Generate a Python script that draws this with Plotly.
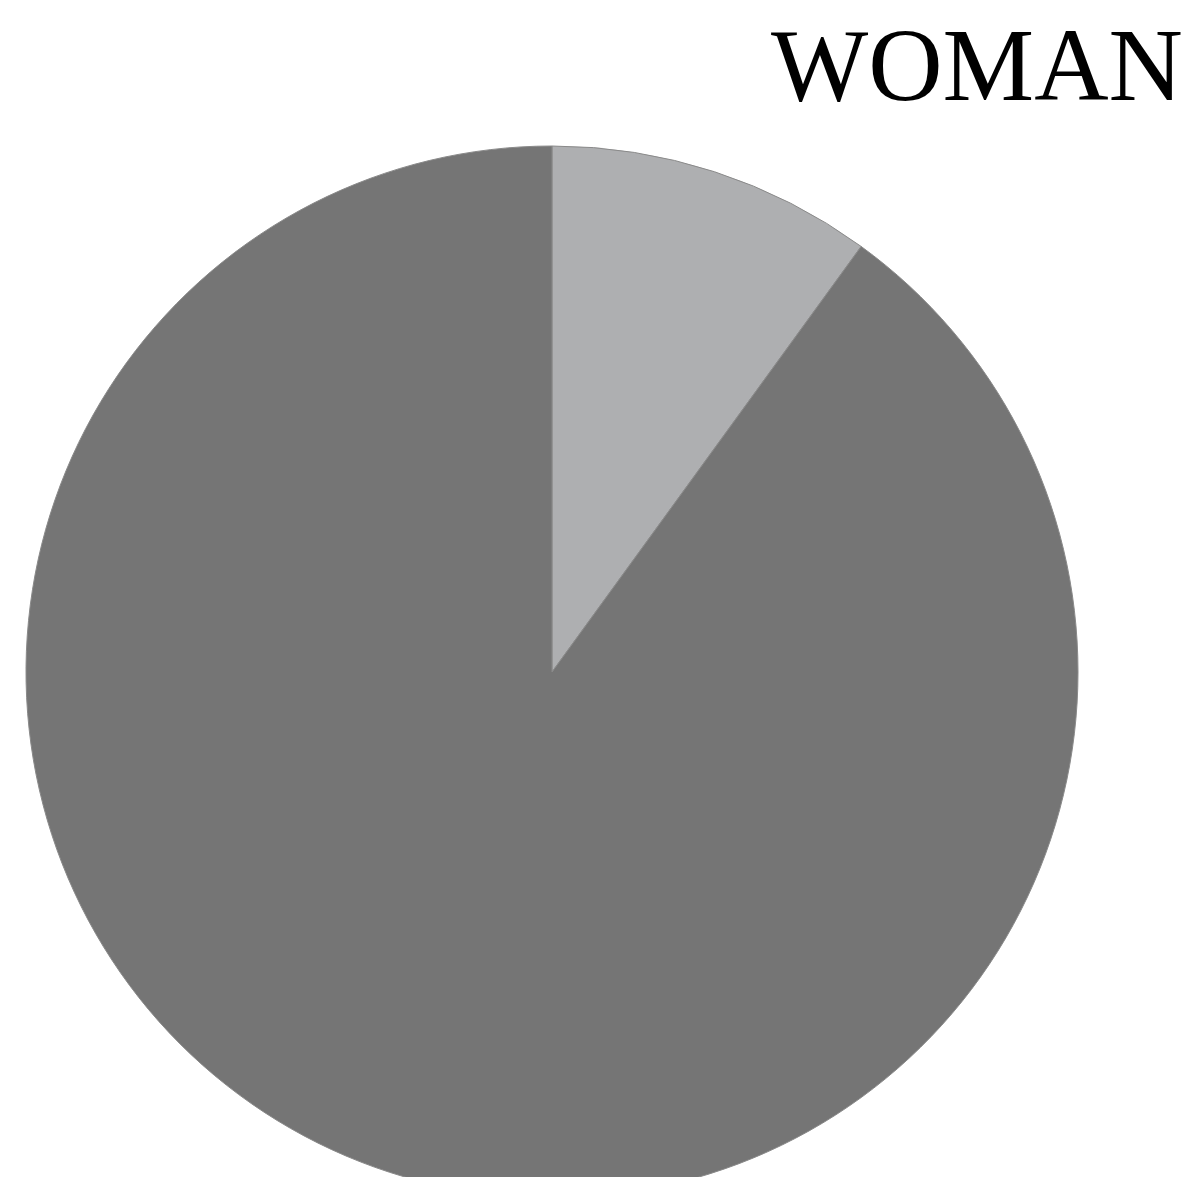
import plotly.graph_objects as go

labels = ["Share A", "Share B"]
values = [10, 90]
colors = ["#aeafb1", "#757575"]
title_text = "WOMAN"

W, H = 1200, 1198
cx, cy, r = 544, 664, 526

fig = go.Figure(go.Pie(
    labels=labels,
    values=values,
    sort=False,
    direction="clockwise",
    rotation=0,
    textinfo="none",
    hoverinfo="label+percent",
    marker=dict(colors=colors, line=dict(color="#8a8a8a", width=1)),
    domain=dict(x=[(cx - r) / W, (cx + r) / W], y=[1 - (cy + r) / H, 1 - (cy - r) / H]),
    showlegend=False,
))

fig.add_annotation(
    text=title_text, xref="paper", yref="paper",
    x=1177 / W, y=1 + 2 / H, xanchor="right", yanchor="top",
    showarrow=False,
    font=dict(family="Liberation Serif", size=103, color="#000000"),
)

fig.update_layout(
    width=W, height=H,
    margin=dict(l=0, r=0, t=0, b=0),
    paper_bgcolor="white", plot_bgcolor="white",
)

fig.write_html("out.html")
